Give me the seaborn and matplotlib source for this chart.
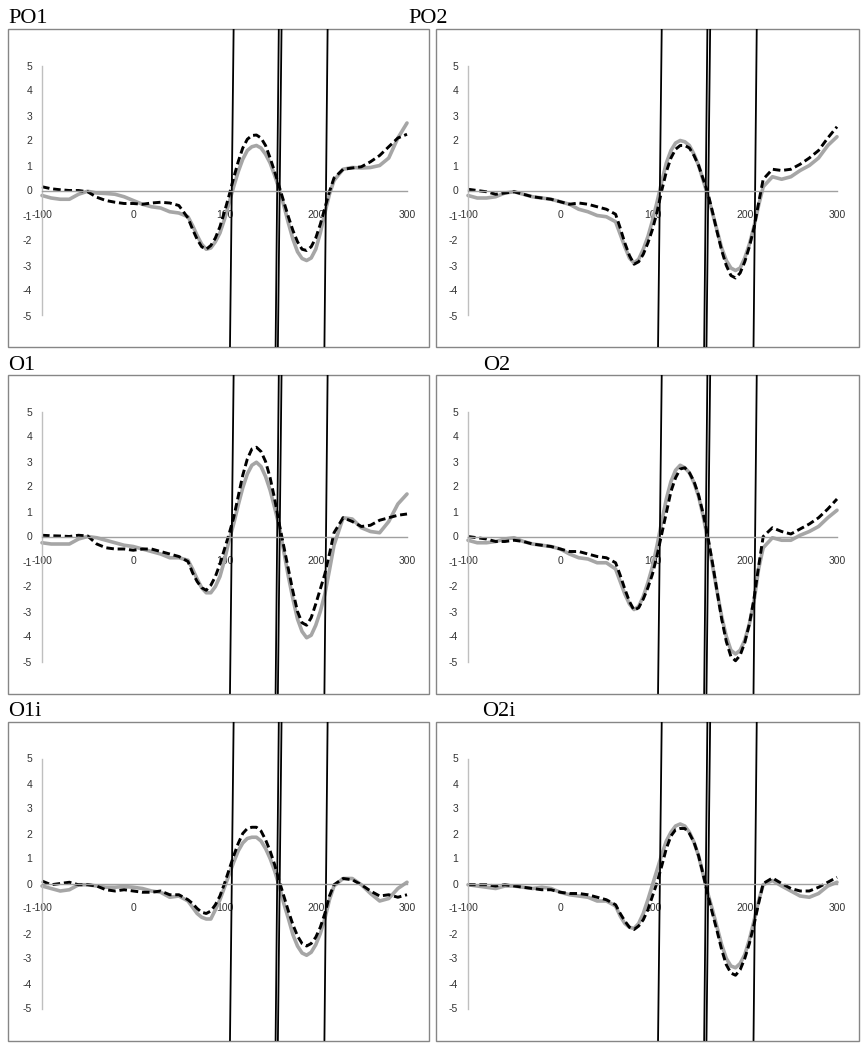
import matplotlib
matplotlib.use("Agg")
import matplotlib.pyplot as plt
from matplotlib.patches import Rectangle
import seaborn as sns

# time axis (ms): 10 ms steps on the flat parts, 5 ms through the big deflections
times = list(range(-100, 61, 10)) + list(range(65, 221, 5)) + list(range(230, 301, 10))

# grey solid = condition A, black dashed = condition B
po1_grey = [-0.2, -0.3, -0.35, -0.35, -0.15, -0.03, -0.1, -0.12, -0.15, -0.25, -0.4,
            -0.55, -0.65, -0.7, -0.85, -0.9, -1.05,
            -1.4, -1.8, -2.15, -2.35, -2.3, -2.05, -1.7, -1.15, -0.5, 0.15, 0.75, 1.25,
            1.6, 1.75, 1.8, 1.7, 1.45, 1.1, 0.6, 0.05, -0.6, -1.3, -1.95, -2.45,
            -2.72, -2.8, -2.7, -2.35, -1.7, -0.9, -0.15, 0.4,
            0.85, 0.92, 0.9, 0.92, 1.0, 1.3, 2.1, 2.7]
po1_dash = [0.15, 0.07, 0.03, 0.0, 0.0, -0.05, -0.27, -0.4, -0.47, -0.52, -0.52,
            -0.55, -0.5, -0.47, -0.5, -0.6, -1.1,
            -1.55, -1.95, -2.25, -2.35, -2.2, -1.9, -1.45, -0.85, -0.2, 0.5, 1.15, 1.7,
            2.05, 2.2, 2.22, 2.1, 1.8, 1.3, 0.75, 0.15, -0.45, -1.05, -1.6, -2.05,
            -2.35, -2.4, -2.25, -1.9, -1.35, -0.7, -0.05, 0.5,
            0.85, 0.9, 0.95, 1.15, 1.4, 1.75, 2.1, 2.25]

po2_grey = [-0.2, -0.3, -0.3, -0.25, -0.1, -0.05, -0.15, -0.25, -0.3, -0.35, -0.45,
            -0.55, -0.75, -0.85, -1.0, -1.05, -1.25,
            -1.75, -2.25, -2.7, -2.9, -2.75, -2.35, -1.85, -1.2, -0.45, 0.35, 1.1, 1.6,
            1.9, 2.0, 1.95, 1.8, 1.45, 1.0, 0.4, -0.2, -0.9, -1.6, -2.3, -2.8,
            -3.1, -3.2, -3.1, -2.7, -2.15, -1.45, -0.6, 0.15,
            0.55, 0.45, 0.55, 0.8, 1.0, 1.3, 1.8, 2.15]
po2_dash = [0.05, 0.0, -0.05, -0.15, -0.1, -0.05, -0.15, -0.25, -0.3, -0.35, -0.45,
            -0.55, -0.5, -0.55, -0.65, -0.75, -0.95,
            -1.5, -2.1, -2.6, -2.95, -2.85, -2.55, -2.1, -1.55, -0.85, 0.0, 0.75, 1.3,
            1.65, 1.8, 1.8, 1.7, 1.4, 1.0, 0.45, -0.1, -0.85, -1.65, -2.4, -3.0,
            -3.4, -3.5, -3.3, -2.85, -2.25, -1.5, -0.5, 0.45,
            0.85, 0.8, 0.85, 1.05, 1.3, 1.6, 2.1, 2.55]

o1_grey = [-0.25, -0.3, -0.3, -0.3, -0.1, 0.0, -0.05, -0.15, -0.25, -0.35, -0.4,
           -0.5, -0.6, -0.7, -0.85, -0.85, -0.95,
           -1.3, -1.7, -2.05, -2.25, -2.25, -2.0, -1.6, -0.95, -0.15, 0.5, 1.25, 1.95,
           2.5, 2.85, 2.97, 2.8, 2.4, 1.85, 1.15, 0.4, -0.6, -1.6, -2.5, -3.3,
           -3.8, -4.05, -3.95, -3.55, -3.0, -2.3, -1.35, -0.35,
           0.75, 0.7, 0.35, 0.2, 0.15, 0.6, 1.3, 1.7]
o1_dash = [0.05, 0.03, 0.02, 0.0, 0.05, 0.02, -0.3, -0.45, -0.5, -0.5, -0.55,
           -0.5, -0.5, -0.6, -0.7, -0.8, -1.0,
           -1.45, -1.8, -2.05, -2.15, -1.95, -1.6, -1.1, -0.5, 0.1, 0.75, 1.6, 2.45,
           3.1, 3.5, 3.57, 3.4, 3.0, 2.35, 1.5, 0.5, -0.4, -1.3, -2.2, -3.0,
           -3.45, -3.55, -3.25, -2.7, -2.1, -1.5, -0.7, 0.15,
           0.75, 0.6, 0.4, 0.45, 0.65, 0.75, 0.85, 0.9]

o2_grey = [-0.15, -0.25, -0.25, -0.2, -0.1, -0.05, -0.2, -0.3, -0.35, -0.4, -0.5,
           -0.7, -0.85, -0.9, -1.05, -1.05, -1.3,
           -1.8, -2.3, -2.7, -2.92, -2.8, -2.4, -1.85, -1.2, -0.35, 0.6, 1.5, 2.2,
           2.65, 2.85, 2.75, 2.55, 2.15, 1.6, 0.8, -0.15, -1.15, -2.2, -3.2, -4.0,
           -4.55, -4.7, -4.55, -4.15, -3.5, -2.6, -1.3, -0.45,
           -0.05, -0.15, -0.15, 0.05, 0.2, 0.4, 0.75, 1.05]
o2_dash = [0.0, -0.05, -0.1, -0.2, -0.2, -0.15, -0.2, -0.3, -0.35, -0.4, -0.5,
           -0.6, -0.6, -0.7, -0.8, -0.85, -1.05,
           -1.55, -2.1, -2.6, -2.95, -2.85, -2.5, -2.05, -1.5, -0.75, 0.1, 0.95, 1.8,
           2.35, 2.7, 2.75, 2.55, 2.2, 1.65, 0.9, 0.0, -1.05, -2.2, -3.3, -4.2,
           -4.8, -4.97, -4.75, -4.25, -3.5, -2.5, -1.2, 0.0,
           0.35, 0.2, 0.1, 0.3, 0.5, 0.75, 1.1, 1.5]

o1i_grey = [-0.1, -0.2, -0.3, -0.25, -0.05, -0.05, -0.1, -0.15, -0.15, -0.12, -0.15,
            -0.2, -0.3, -0.35, -0.55, -0.5, -0.7,
            -0.95, -1.2, -1.35, -1.42, -1.42, -1.05, -0.65, -0.15, 0.35, 0.85, 1.3, 1.62,
            1.8, 1.85, 1.85, 1.7, 1.4, 1.0, 0.5, -0.1, -0.8, -1.4, -2.05, -2.5,
            -2.78, -2.87, -2.75, -2.45, -2.0, -1.4, -0.65, -0.1,
            0.2, 0.2, -0.05, -0.4, -0.7, -0.6, -0.2, 0.05]
o1i_dash = [0.1, -0.05, 0.0, 0.05, -0.05, -0.05, -0.1, -0.25, -0.3, -0.25, -0.3,
            -0.35, -0.35, -0.3, -0.45, -0.45, -0.65,
            -0.8, -1.0, -1.15, -1.2, -1.1, -0.85, -0.5, 0.0, 0.55, 1.1, 1.6, 2.0,
            2.2, 2.25, 2.25, 2.1, 1.75, 1.3, 0.75, 0.1, -0.5, -1.1, -1.65, -2.1,
            -2.4, -2.5, -2.4, -2.15, -1.75, -1.2, -0.5, -0.05,
            0.2, 0.15, -0.05, -0.3, -0.5, -0.45, -0.55, -0.45]

o2i_grey = [-0.05, -0.1, -0.15, -0.2, -0.1, -0.1, -0.15, -0.2, -0.15, -0.2, -0.35,
            -0.45, -0.5, -0.55, -0.7, -0.7, -0.9,
            -1.3, -1.6, -1.75, -1.8, -1.6, -1.2, -0.65, -0.05, 0.55, 1.15, 1.7, 2.05,
            2.3, 2.38, 2.3, 2.05, 1.65, 1.1, 0.35, -0.4, -1.05, -1.75, -2.45, -3.0,
            -3.3, -3.37, -3.2, -2.85, -2.25, -1.5, -0.7, -0.05,
            0.12, -0.1, -0.3, -0.5, -0.55, -0.4, -0.1, 0.05]
o2i_dash = [-0.05, -0.05, -0.05, -0.1, -0.05, -0.1, -0.15, -0.2, -0.25, -0.25, -0.35,
            -0.4, -0.4, -0.45, -0.55, -0.65, -0.85,
            -1.2, -1.5, -1.75, -1.84, -1.7, -1.45, -1.05, -0.5, 0.05, 0.7, 1.4, 1.9,
            2.15, 2.2, 2.2, 2.0, 1.65, 1.1, 0.35, -0.45, -1.2, -1.9, -2.65, -3.25,
            -3.58, -3.67, -3.45, -3.0, -2.4, -1.65, -0.8, 0.0,
            0.22, 0.0, -0.2, -0.3, -0.3, -0.15, 0.05, 0.25]

panel_names = ["PO1", "PO2", "O1", "O2", "O1i", "O2i"]
grey_series = [po1_grey, po2_grey, o1_grey, o2_grey, o1i_grey, o2i_grey]
dash_series = [po1_dash, po2_dash, o1_dash, o2_dash, o1i_dash, o2i_dash]

# hand-drawn window markers (ms at top / bottom of each box, slightly slanted)
marker_top = [110, 159.5, 162.5, 213]
marker_bottom = [106, 156, 158.5, 209.5]

x_ticks = [-100, 0, 100, 200, 300]
y_ticks = [-5, -4, -3, -2, -1, 0, 1, 2, 3, 4, 5]

for s in grey_series + dash_series:
    assert len(s) == len(times)

W, H = 866, 1050
sns.set_style("white")
plt.rcParams["font.family"] = ["Liberation Sans", "DejaVu Sans"]

fig = plt.figure(figsize=(W / 100, H / 100), dpi=100)

# box geometry in pixels
col_left = [8, 436]
col_width = [421, 423]
row_top = [28.5, 374.5, 721.5]
box_h = 319
inner_left = [34, 32]
inner_right = 22
inner_top = 37
inner_bottom = 32

title_pos = [(8, 23), (408, 23), (8, 370), (483, 370), (8, 716), (482, 716)]

for i, name in enumerate(panel_names):
    r, c = divmod(i, 2)
    x0, w = col_left[c], col_width[c]
    y0 = row_top[r]
    ax = fig.add_axes([x0 / W, 1 - (y0 + box_h) / H, w / W, box_h / H])

    # map the inner plot region to -100..300 / -5..5
    px_per_ms = (w - inner_left[c] - inner_right) / 400
    px_per_uv = (box_h - inner_top - inner_bottom) / 10
    ax.set_xlim(-100 - inner_left[c] / px_per_ms, 300 + inner_right / px_per_ms)
    ax.set_ylim(-5 - inner_bottom / px_per_uv, 5 + inner_top / px_per_uv)

    sns.lineplot(x=times, y=grey_series[i], ax=ax, color="#A6A6A6", linewidth=2.6,
                 solid_joinstyle="round", solid_capstyle="round")
    sns.lineplot(x=times, y=dash_series[i], ax=ax, color="black", linewidth=2.1,
                 linestyle=(0, (2.6, 1.3)), dash_joinstyle="round")

    for t, b in zip(marker_top, marker_bottom):
        ax.plot([t, b], [1, 0], color="black", linewidth=1.3,
                transform=ax.get_xaxis_transform())

    # excel-like axes crossing at zero
    ax.spines["top"].set_visible(False)
    ax.spines["right"].set_visible(False)
    ax.spines["left"].set_position(("data", -100))
    ax.spines["left"].set_bounds(-5, 5)
    ax.spines["left"].set_color("#BFBFBF")
    ax.spines["left"].set_linewidth(1)
    ax.spines["bottom"].set_position(("data", 0))
    ax.spines["bottom"].set_bounds(-100, 300)
    ax.spines["bottom"].set_color("#A0A0A0")
    ax.spines["bottom"].set_linewidth(1)

    ax.set_xticks(x_ticks)
    ax.set_yticks(y_ticks)
    ax.set_xticklabels([str(v) for v in x_ticks])
    ax.set_yticklabels([str(v) for v in y_ticks])
    ax.tick_params(axis="x", direction="in", length=3, width=1, color="#A0A0A0",
                   pad=14, labelsize=7.5, labelcolor="#333333")
    ax.tick_params(axis="y", direction="out", length=3, width=1, color="#BFBFBF",
                   pad=4, labelsize=7.5, labelcolor="#333333")
    ax.set_xlabel("")
    ax.set_ylabel("")

    # chart-area border
    ax.add_patch(Rectangle((0, 0), 1, 1, transform=ax.transAxes, fill=False,
                           edgecolor="#868686", linewidth=1, clip_on=False))

    tx, ty = title_pos[i]
    fig.text(tx / W, 1 - ty / H, name, family=["Liberation Serif", "DejaVu Serif"],
             fontsize=16, va="baseline", ha="left", color="black")

fig.savefig("out.png", dpi=100)
